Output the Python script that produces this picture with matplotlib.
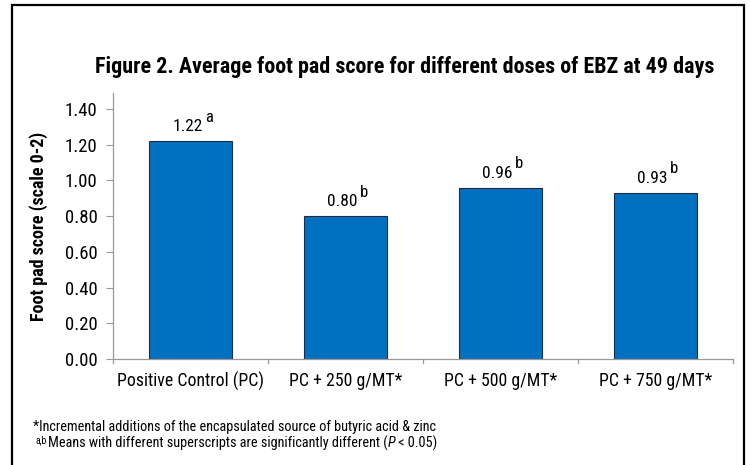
import matplotlib
matplotlib.use("Agg")
import matplotlib.pyplot as plt
from matplotlib.patches import Rectangle
from matplotlib import font_manager

names = {f.name for f in font_manager.fontManager.ttflist}
pref = ['Liberation Sans Narrow', 'Arial Narrow', 'Roboto Condensed', 'Archivo Narrow',
        'PT Sans Narrow', 'Liberation Sans']
FONT = next(n for n in pref if n in names)
plt.rcParams['font.family'] = [FONT, 'DejaVu Sans']

categories = ["Positive Control (PC)", "PC + 250 g/MT*", "PC + 500 g/MT*", "PC + 750 g/MT*"]
values = [1.22, 0.80, 0.96, 0.93]
letters = ["a", "b", "b", "b"]
yticks = [0.0, 0.2, 0.4, 0.6, 0.8, 1.0, 1.2, 1.4]
title = "Figure 2. Average foot pad score for different doses of EBZ at 49 days"
ylabel = "Foot pad score (scale 0-2)"

W, H = 750, 465
fig = plt.figure(figsize=(7.5, 4.65), dpi=100)
fig.patch.set_facecolor("white")

fig.add_artist(Rectangle((12 / W, -0.05), (744 - 12) / W, 1.05 - 5 / H,
                         transform=fig.transFigure, fill=False,
                         edgecolor="black", linewidth=1.6))

ax = fig.add_axes([113 / W, 1 - 359 / H, (733 - 113) / W, (359 - 93) / H])
x = list(range(len(categories)))
ax.bar(x, values, width=0.53, color="#0070C0", edgecolor="#1F2A44", linewidth=0.8)
ax.set_xlim(-0.5, len(categories) - 0.5)
ax.set_ylim(0, 1.49)
ax.set_yticks(yticks)
ax.set_yticklabels([f"{v:.2f}" for v in yticks], fontsize=13.5)
ax.set_xticks(x)
ax.set_xticklabels(categories, fontsize=12.8)
ax.tick_params(axis="x", length=0, pad=9)
ax.tick_params(axis="y", length=5, color="#999999", pad=6)
for b in [-0.5, 0.5, 1.5, 2.5, 3.5]:
    ax.plot([b, b], [0, -0.025], color="#999999", lw=0.9, clip_on=False)
for s in ["top", "right"]:
    ax.spines[s].set_visible(False)
for s in ["left", "bottom"]:
    ax.spines[s].set_color("#999999")
    ax.spines[s].set_linewidth(0.9)

for xi, v, l in zip(x, values, letters):
    ax.annotate(f"{v:.2f}", (xi, v), xytext=(-2, 5), textcoords="offset points",
                ha="center", va="bottom", fontsize=12.5)
    ax.annotate(l, (xi, v), xytext=(10.5, 12), textcoords="offset points",
                ha="left", va="bottom", fontsize=12)

ax.set_ylabel(ylabel, fontsize=13, fontweight="bold", labelpad=12)

fig.text(405 / W, 1 - 73 / H, title, ha="center", va="baseline",
         fontsize=15.8, fontweight="bold")

fig.text(33 / W, 1 - 427 / H, "*Incremental additions of the encapsulated source of butyric acid & zinc",
         ha="left", va="center", fontsize=10.3)
fig.text(35 / W, 1 - 440 / H, "a,b", ha="left", va="center", fontsize=7)
main = fig.text(48 / W, 1 - 443 / H, "Means with different superscripts are significantly different (",
                ha="left", va="center", fontsize=10.3)
fig.canvas.draw()
r = fig.canvas.get_renderer()
bb = main.get_window_extent(r)
t1 = fig.text(bb.x1 / W, 1 - 443 / H, "P", ha="left", va="center", fontsize=10.3, style="italic")
bb2 = t1.get_window_extent(r)
fig.text(bb2.x1 / W, 1 - 443 / H, " < 0.05)", ha="left", va="center", fontsize=10.3)

fig.savefig("out.png", dpi=100, facecolor="white")
